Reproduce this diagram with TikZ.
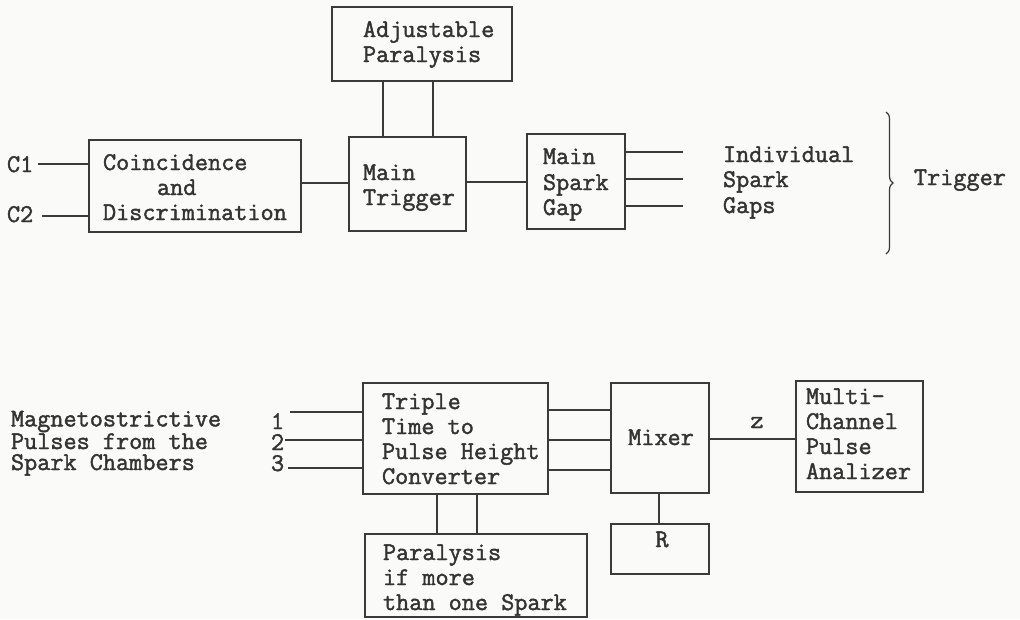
\documentclass[tikz,border=0pt]{standalone}
\usepackage{fontspec}
\usetikzlibrary{decorations.pathreplacing}
\newfontfamily\twfont{Latin Modern Mono}[FakeBold=1.6]
\definecolor{ink}{HTML}{3A3A3A}
\definecolor{inktext}{HTML}{333333}
\definecolor{paper}{HTML}{FAFAF8}
\tikzset{
  box/.style={draw=ink, line width=1.2pt, inner sep=0pt, outer sep=0pt, rectangle},
  txt/.style={inner sep=0pt, outer sep=0pt, text=inktext, font=\twfont\fontsize{25.5}{25}\selectfont},
  tight/.style={txt, align=left, font=\twfont\fontsize{25.5}{21}\selectfont},
  wire/.style={draw=ink, line width=1.2pt},
}
\begin{document}
\begin{tikzpicture}[x=1pt, y=-1pt]
\fill[paper] (0,0) rectangle (1020,619);
\useasboundingbox (0,0) rectangle (1020,619);

% ---------- boxes ----------
\node[box, minimum width=180pt, minimum height=74pt] (adj) at (422,44) {};
\node[box, minimum width=117pt, minimum height=94pt] (trig) at (407.5,184) {};
\node[box, minimum width=212pt, minimum height=92pt] (coinc) at (195,186) {};
\node[box, minimum width=98pt, minimum height=95pt] (msg) at (576,181.5) {};
\node[box, minimum width=185pt, minimum height=111pt] (triple) at (455.5,438.5) {};
\node[box, minimum width=222pt, minimum height=83pt] (para) at (476,575.5) {};
\node[box, minimum width=98pt, minimum height=110pt] (mixer) at (660,438) {};
\node[box, minimum width=127pt, minimum height=111pt] (multi) at (859.5,436.5) {};
\node[box, minimum width=98pt, minimum height=50pt] (rbox) at (660,549) {};

% ---------- texts, top ----------
\node[txt, anchor=base west] (tc1) at (7,172) {C1};
\node[txt, anchor=base west] (tc2) at (7,222) {C2};
\node[txt, anchor=base west] (co1) at (103,170) {Coincidence};
\node[txt, anchor=base west] (co2) at (157,195) {and};
\node[txt, anchor=base west] (co3) at (103,220) {Discrimination};
\node[txt, anchor=base west] (ad1) at (363,37) {Adjustable};
\node[txt, anchor=base west] (ad2) at (363,62) {Paralysis};
\node[txt, anchor=base west] (tr1) at (363,180) {Main};
\node[txt, anchor=base west] (tr2) at (363,205) {Trigger};
\node[txt, anchor=base west] (ms1) at (543,164) {Main};
\node[txt, anchor=base west] (ms2) at (543,190) {Spark};
\node[txt, anchor=base west] (ms3) at (543,215) {Gap};
\node[txt, anchor=base west] (in1) at (723,162) {Individual};
\node[txt, anchor=base west] (in2) at (723,187) {Spark};
\node[txt, anchor=base west] (in3) at (723,213) {Gaps};
\node[txt, anchor=base west] (trg) at (914,185) {Trigger};

% ---------- texts, bottom ----------
\node[tight, anchor=base west] (mg) at (11,470) {Magnetostrictive\\Pulses from the\\Spark Chambers};
\node[tight, anchor=base west] (nums) at (271,471) {1\\2\\3};
\node[txt, anchor=base west] (tp1) at (382,409) {Triple};
\node[txt, anchor=base west] (tp2) at (382,434) {Time to};
\node[txt, anchor=base west] (tp3) at (382,459) {Pulse Height};
\node[txt, anchor=base west] (tp4) at (382,484) {Converter};
\node[txt, anchor=base west] (pa1) at (383,560) {Paralysis};
\node[txt, anchor=base west] (pa2) at (383,585) {if more};
\node[txt, anchor=base west] (pa3) at (383,610) {than one Spark};
\node[txt, anchor=base] (mx) at (661,445) {Mixer};
\node[txt, anchor=base] (zl) at (757,428) {z};
\node[txt, anchor=base west] (mu1) at (806,404) {Multi-};
\node[txt, anchor=base west] (mu2) at (806,429) {Channel};
\node[txt, anchor=base west] (mu3) at (806,454) {Pulse};
\node[txt, anchor=base west] (mu4) at (806,479) {Analizer};
\node[txt, anchor=base] (rl) at (662,547) {R};

% ---------- free ends ----------
\coordinate (c1e) at (38,164);
\coordinate (c2e) at (42,216);
\coordinate (g1) at (683,152);
\coordinate (g2) at (683,179);
\coordinate (g3) at (683,206);
\coordinate (i1) at (290,412);
\coordinate (i2) at (285,440);
\coordinate (i3) at (288,468);
\coordinate (bt) at (886,112);
\coordinate (bb) at (886,254);

% ---------- connectors, top ----------
\draw[wire] (c1e) -- (coinc.west |- c1e);
\draw[wire] (c2e) -- (coinc.west |- c2e);
\draw[wire] (coinc.east |- 0,183) -- (trig.west |- 0,183);
\draw[wire] (adj.south -| 383,0) -- (trig.north -| 383,0);
\draw[wire] (adj.south -| 433,0) -- (trig.north -| 433,0);
\draw[wire] (trig.east |- 0,182) -- (msg.west |- 0,182);
\draw[wire] (msg.east |- g1) -- (g1);
\draw[wire] (msg.east |- g2) -- (g2);
\draw[wire] (msg.east |- g3) -- (g3);
\draw[ink, line width=1.2pt, decorate, decoration={brace, amplitude=7pt}] (bt) -- (bb);

% ---------- connectors, bottom ----------
\draw[wire] (i1) -- (triple.west |- i1);
\draw[wire] (i2) -- (triple.west |- i2);
\draw[wire] (i3) -- (triple.west |- i3);
\draw[wire] (triple.east |- 0,410) -- (mixer.west |- 0,410);
\draw[wire] (triple.east |- 0,440) -- (mixer.west |- 0,440);
\draw[wire] (triple.east |- 0,470) -- (mixer.west |- 0,470);
\draw[wire] (triple.south -| 437,0) -- (para.north -| 437,0);
\draw[wire] (triple.south -| 477,0) -- (para.north -| 477,0);
\draw[wire] (mixer.east |- 0,439) -- (multi.west |- 0,439);
\draw[wire] (mixer.south -| 659,0) -- (rbox.north -| 659,0);
\end{tikzpicture}
\end{document}
